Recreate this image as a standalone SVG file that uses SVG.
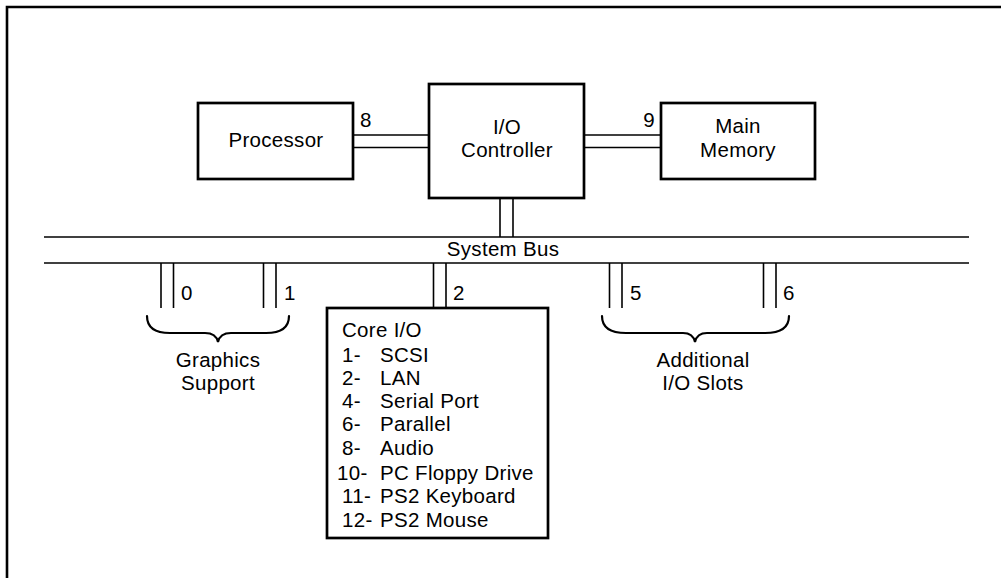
<svg xmlns="http://www.w3.org/2000/svg" width="1001" height="578" viewBox="0 0 1001 578">
<style>
.box{fill:#fff;stroke:#000;stroke-width:2.7}
.ln{stroke:#000;stroke-width:1.6;fill:none}
.br{stroke:#000;stroke-width:2.2;fill:none;stroke-linecap:round}
text{font-family:"Liberation Sans",Arial,sans-serif;font-size:20.5px;letter-spacing:0.3px;fill:#000}
.c{text-anchor:middle}
</style>
<rect width="1001" height="578" fill="#fff"/>
<path d="M7,578 V7 H1001" fill="none" stroke="#000" stroke-width="2.6"/>
<g id="connectors">
<line class="ln" x1="353" y1="135" x2="429" y2="135"/>
<line class="ln" x1="353" y1="147.5" x2="429" y2="147.5"/>
<line class="ln" x1="584" y1="135" x2="661" y2="135"/>
<line class="ln" x1="584" y1="147.5" x2="661" y2="147.5"/>
<line class="ln" x1="500" y1="198" x2="500" y2="237"/>
<line class="ln" x1="513" y1="198" x2="513" y2="237"/>
<line class="ln" x1="161" y1="263" x2="161" y2="308"/>
<line class="ln" x1="173.5" y1="263" x2="173.5" y2="308"/>
<line class="ln" x1="263.5" y1="263" x2="263.5" y2="308"/>
<line class="ln" x1="276" y1="263" x2="276" y2="308"/>
<line class="ln" x1="433.5" y1="263" x2="433.5" y2="308"/>
<line class="ln" x1="446" y1="263" x2="446" y2="308"/>
<line class="ln" x1="609.5" y1="263" x2="609.5" y2="308"/>
<line class="ln" x1="622" y1="263" x2="622" y2="308"/>
<line class="ln" x1="763.5" y1="263" x2="763.5" y2="308"/>
<line class="ln" x1="776" y1="263" x2="776" y2="308"/>
<text x="360" y="127">8</text>
<text x="655" y="127" text-anchor="end">9</text>
<text x="181" y="300">0</text>
<text x="284" y="300">1</text>
<text x="453" y="300">2</text>
<text x="630" y="300">5</text>
<text x="783" y="300">6</text>
</g>
<g id="system-bus">
<line class="ln" x1="44" y1="237" x2="969" y2="237"/>
<line class="ln" x1="44" y1="263" x2="969" y2="263"/>
<text class="c" x="503" y="256">System Bus</text>
</g>
<g id="processor">
<rect class="box" x="198" y="103" width="155" height="76"/>
<text class="c" x="276" y="147">Processor</text>
</g>
<g id="io-controller">
<rect class="box" x="429" y="84" width="155" height="114"/>
<text class="c" x="507" y="134">I/O</text>
<text class="c" x="507" y="157">Controller</text>
</g>
<g id="main-memory">
<rect class="box" x="661" y="103" width="154" height="76"/>
<text class="c" x="738" y="133">Main</text>
<text class="c" x="738" y="157">Memory</text>
</g>
<g id="graphics-support">
<path class="br" d="M147,316 Q147,333 170,333 L205,333 Q216,333 218,342 Q220,333 231,333 L266,333 Q289,333 289,316"/>
<text class="c" x="218" y="367">Graphics</text>
<text class="c" x="218" y="390">Support</text>
</g>
<g id="additional-slots">
<path class="br" d="M602,316 Q602,333 626,333 L683,333 Q693,333 695,342 Q697,333 707,333 L765,333 Q789,333 789,316"/>
<text class="c" x="703" y="367">Additional</text>
<text class="c" x="703" y="390">I/O Slots</text>
</g>
<g id="core-io">
<rect class="box" x="327" y="308" width="221" height="230"/>
<text x="342" y="337">Core I/O</text>
<text x="342" y="362">1-</text><text x="380" y="362">SCSI</text>
<text x="342" y="385">2-</text><text x="380" y="385">LAN</text>
<text x="342" y="408">4-</text><text x="380" y="408">Serial Port</text>
<text x="342" y="431">6-</text><text x="380" y="431">Parallel</text>
<text x="342" y="455">8-</text><text x="380" y="455">Audio</text>
<text x="337" y="480">10-</text><text x="380" y="480">PC Floppy Drive</text>
<text x="342" y="503">11-</text><text x="380" y="503">PS2 Keyboard</text>
<text x="342" y="527">12-</text><text x="380" y="527">PS2 Mouse</text>
</g>
</svg>
